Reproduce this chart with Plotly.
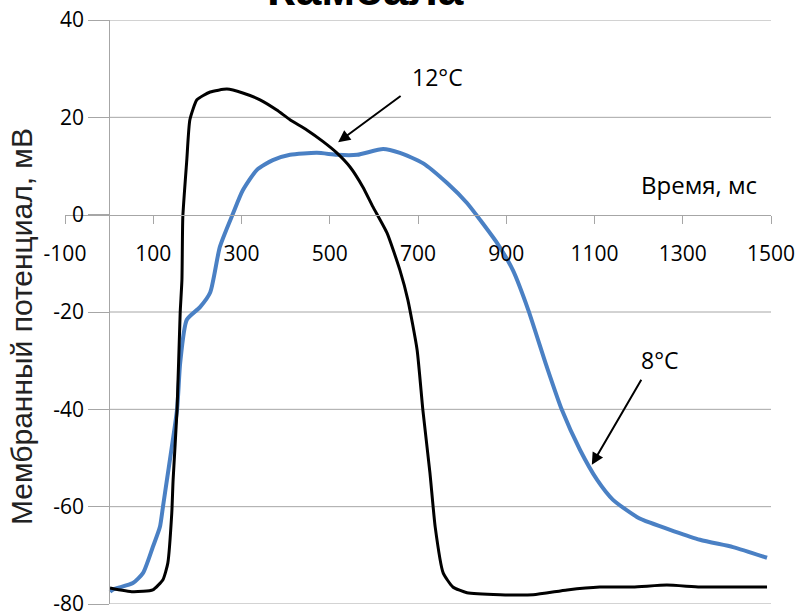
import plotly.graph_objects as go

# ---- data ----
t_12 = [2, 54, 99, 122, 133, 142, 145, 154, 161, 165, 167, 176, 183, 199, 229, 267, 303, 342, 380,
        410, 448, 485, 516, 546, 575, 598, 630, 659, 677, 698, 711, 727, 739, 757, 779, 811,
        886, 961, 1038, 1112, 1187, 1264, 1339, 1414, 1491]
v_12 = [-76.7, -77.5, -77.1, -75.0, -71.6, -61.3, -54.5, -40.0, -20.2, -13.4, -0.5, 11.2, 19.5, 23.6,
        25.2, 25.8, 25.0, 23.6, 21.5, 19.5, 17.4, 15.0, 12.7, 9.8, 5.7, 1.6, -3.8, -11.4, -17.5,
        -27.8, -40.1, -53.0, -64.2, -73.6, -76.5, -77.7, -78.1, -78.1, -77.1, -76.5, -76.5, -76.1,
        -76.5, -76.5, -76.5]

t_8 = [2, 9, 54, 77, 99, 115, 122, 131, 154, 161, 176, 206, 229, 251, 281, 303, 335, 371, 410, 471,
       516, 562, 621, 659, 711, 766, 811, 841, 879, 915, 950, 992, 1026, 1067, 1106, 1142,
       1196, 1226, 1339, 1414, 1491]
v_8 = [-77.5, -77.0, -75.7, -73.6, -68.3, -64.2, -60.0, -54.5, -40.0, -30.5, -21.6, -19.0, -16.0, -6.6,
       0.3, 5.0, 9.2, 11.2, 12.3, 12.7, 12.3, 12.3, 13.5, 12.7, 10.6, 6.5, 2.4, -1.1, -5.8, -11.4,
       -19.6, -31.3, -40.1, -48.3, -54.5, -58.6, -62.1, -63.3, -66.8, -68.3, -70.5]

x_ticks = [-100, 100, 300, 500, 700, 900, 1100, 1300, 1500]
y_ticks = [-80, -60, -40, -20, 0, 20, 40]

title_text = "Камбала"
x_title = "Время, мс"
y_title = "Мембранный потенциал, мВ"
label_12 = "12°C"
label_8 = "8°C"

# ---- layout geometry ----
W, H = 798, 615
ML, MR, MT, MB = 65, 27, 20, 11
PW = W - ML - MR
PH = H - MT - MB
XR = [-100, 1500]
YR = [-80, 40]

def xpaper(v):
    return (v - XR[0]) / (XR[1] - XR[0])

def ypaper(v):
    return (v - YR[0]) / (YR[1] - YR[0])

GRID = "#a6a6a6"
TICKFONT = dict(family="Open Sans", size=21, color="#000")

fig = go.Figure()
fig.add_trace(go.Scatter(x=t_8, y=v_8, mode="lines",
                         line=dict(color="#4a80c4", width=4, shape="spline", smoothing=0.6),
                         name=label_8, showlegend=False))
fig.add_trace(go.Scatter(x=t_12, y=v_12, mode="lines",
                         line=dict(color="#000000", width=3, shape="spline", smoothing=0.5),
                         name=label_12, showlegend=False))

# horizontal gridlines from x=0 to the end of the axis
for yv in y_ticks:
    if yv == 0:
        continue
    fig.add_shape(type="line", xref="x", yref="y", x0=0, x1=XR[1], y0=yv, y1=yv,
                  line=dict(color=GRID, width=1), layer="below")

fig.update_layout(
    width=W, height=H,
    margin=dict(l=ML, r=MR, t=MT, b=MB),
    paper_bgcolor="white", plot_bgcolor="white",
    xaxis=dict(range=XR, domain=[0, 1], anchor="free", position=ypaper(0), automargin=False,
               showgrid=False, zeroline=False, showline=True, linecolor=GRID, linewidth=1,
               tickmode="array", tickvals=x_ticks, ticktext=[str(v) for v in x_ticks],
               ticks="outside", ticklen=8, tickcolor=GRID, ticklabeloverflow="allow",
               tickfont=TICKFONT, ticklabelstandoff=12),
    yaxis=dict(range=YR, domain=[0, 1], anchor="free", position=xpaper(0), automargin=False,
               showgrid=False, zeroline=False, showline=True, linecolor=GRID, linewidth=1,
               tickmode="array", tickvals=y_ticks, ticktext=[str(v) for v in y_ticks],
               ticks="outside", ticklen=21, tickcolor=GRID, ticklabeloverflow="allow",
               tickfont=TICKFONT),
)

# title (partly cut off at the top)
fig.add_annotation(text=f"<b>{title_text}</b>", xref="paper", yref="paper",
                   x=(365 - ML) / PW, y=(H - MB - 17) / PH, xanchor="center", yanchor="bottom",
                   showarrow=False, font=dict(family="Liberation Sans", size=46, color="#000"))

# axis titles
fig.add_annotation(text=y_title, xref="paper", yref="paper", x=(22 - ML) / PW,
                   y=(H - MB - 327) / PH, textangle=-90, showarrow=False,
                   xanchor="center", yanchor="middle",
                   font=dict(family="Liberation Sans", size=30, color="#222"))
fig.add_annotation(text=x_title, xref="x", yref="y", x=1337, y=6.3, showarrow=False,
                   xanchor="center", yanchor="middle",
                   font=dict(family="Open Sans", size=24, color="#000"))

# curve labels with arrows
fig.add_annotation(text=label_12, xref="x", yref="y", x=744, y=28.3, showarrow=False,
                   font=dict(family="Open Sans", size=23, color="#000"))
fig.add_annotation(text="", xref="x", yref="y", x=519, y=14.9, ax=664, ay=24.6,
                   axref="x", ayref="y", showarrow=True, arrowhead=2, arrowsize=1.2,
                   arrowwidth=2, arrowcolor="#000")
fig.add_annotation(text=label_8, xref="x", yref="y", x=1248, y=-29.9, showarrow=False,
                   font=dict(family="Open Sans", size=23, color="#000"))
fig.add_annotation(text="", xref="x", yref="y", x=1094, y=-51.4, ax=1208, ay=-33.6,
                   axref="x", ayref="y", showarrow=True, arrowhead=2, arrowsize=1.2,
                   arrowwidth=2, arrowcolor="#000")

fig.write_html("out.html", config={"displayModeBar": False},
               post_script="document.body.style.margin='0';document.body.style.overflow='hidden';")
